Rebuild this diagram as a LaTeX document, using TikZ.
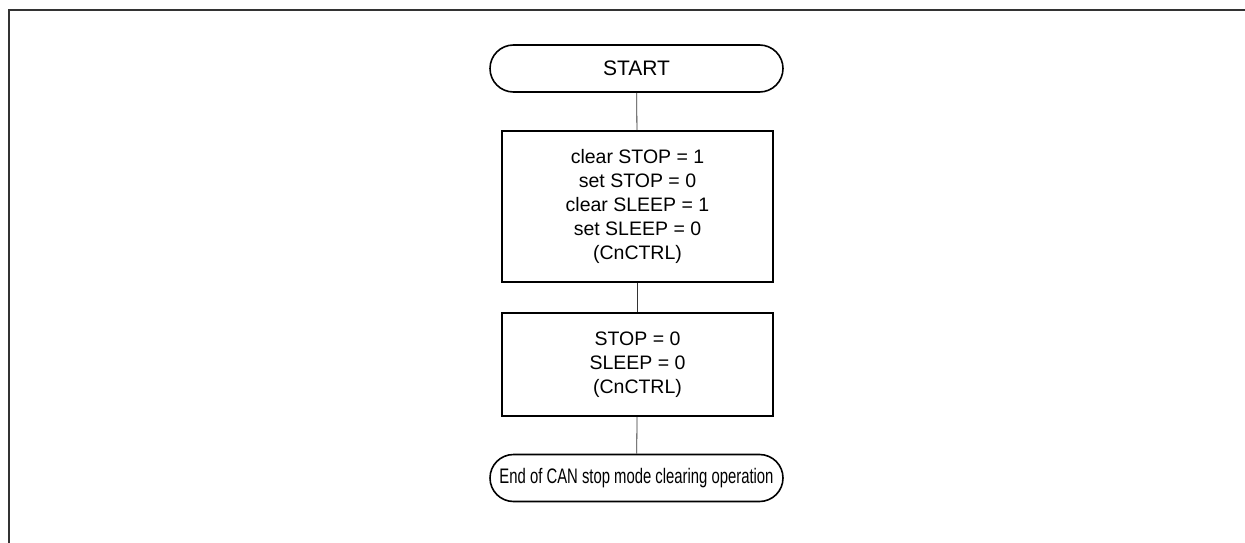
\documentclass[tikz,border=0pt]{standalone}
\usepackage{fontspec}
\setmainfont{Liberation Sans}
\usetikzlibrary{shapes.misc}

\begin{document}
\begin{tikzpicture}[
  x=1pt,y=-1pt,
  every node/.style={font=\fontsize{19.5}{23.8}\selectfont,align=center,inner sep=0pt},
  terminal/.style={rounded rectangle,draw,line width=1.6pt,minimum width=293pt,minimum height=47pt},
  process/.style={rectangle,draw,line width=1.8pt,minimum width=271pt},
  link/.style={black!80,line width=0.8pt}
]
  \useasboundingbox (0,0) rectangle (1245,543);

  % Rahmen
  \draw[black!80,line width=2pt] (1245,10) -- (9,10) -- (9,543);

  % Ablauf
  \node[terminal,font=\fontsize{21}{24}\selectfont] (start) at (636.5,68.5) {START};
  \node[process,minimum height=151pt] (clear) at (637.5,206.5)
    {clear STOP = 1\\set STOP = 0\\clear SLEEP = 1\\set SLEEP = 0\\(CnCTRL)};
  \node[process,minimum height=103pt] (check) at (637.5,364.5)
    {STOP = 0\\SLEEP = 0\\(CnCTRL)};
  \node[terminal,font=\fontsize{21}{24}\selectfont] (done) at (636.5,478)
    {\resizebox{274pt}{\height}{End of CAN stop mode clearing operation}};

  % Verbindungen
  \draw[link] (start) -- (clear);
  \draw[link] (clear) -- (check);
  \draw[link] (check) -- (done);
\end{tikzpicture}
\end{document}
